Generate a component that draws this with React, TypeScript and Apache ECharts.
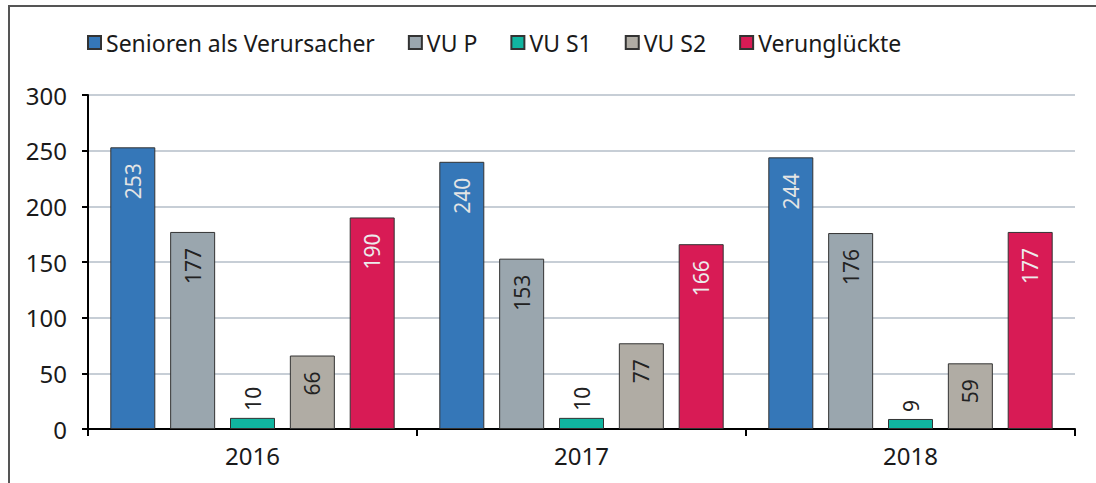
import React, { useEffect, useRef } from "react";
import * as echarts from "echarts";

const categories = ["2016", "2017", "2018"];
const seriesNames = ["Senioren als Verursacher", "VU P", "VU S1", "VU S2", "Verunglückte"];
const senioren = [253, 240, 244];
const vuP = [177, 153, 176];
const vuS1 = [10, 10, 9];
const vuS2 = [66, 77, 59];
const verunglueckte = [190, 166, 177];
const yTicks = { min: 0, max: 300, interval: 50 };

const colors = ["#3577b8", "#9aa6ae", "#10b5a0", "#b0aca4", "#d81b55"];
const labelColors = ["#e4e4e4", "#222222", "#222222", "#222222", "#ececec"];
const FONT = "Noto Sans";

export default function App() {
  const ref = useRef<HTMLDivElement>(null);
  useEffect(() => {
    if (!ref.current) return;
    const chart = echarts.init(ref.current, undefined, { renderer: "svg" });
    const data = [senioren, vuP, vuS1, vuS2, verunglueckte];
    chart.setOption({
      animation: false,
      textStyle: { fontFamily: FONT },
      legend: {
        top: 26,
        left: 82,
        itemWidth: 13,
        itemHeight: 13,
        itemGap: 33,
        icon: "rect",
        textStyle: { fontSize: 23, color: "#1a1a1a", fontFamily: FONT },
        data: seriesNames,
      },
      grid: { left: 88, right: 21, top: 95, bottom: 54 },
      xAxis: {
        type: "category",
        data: categories,
        axisLine: { lineStyle: { color: "#000", width: 2 } },
        axisTick: { show: true, length: 7, lineStyle: { color: "#000", width: 2 } },
        axisLabel: { fontSize: 24, color: "#1a1a1a", margin: 14, fontFamily: FONT },
      },
      yAxis: {
        type: "value",
        min: yTicks.min,
        max: yTicks.max,
        interval: yTicks.interval,
        axisLine: { show: true, lineStyle: { color: "#000", width: 2 } },
        axisTick: { show: true, length: 6, lineStyle: { color: "#000", width: 2 } },
        axisLabel: { fontSize: 24, color: "#1a1a1a", margin: 21, fontFamily: FONT },
        splitLine: { lineStyle: { color: "#b4bec9", width: 1.5 } },
      },
      series: seriesNames.map((name, i) => ({
        name,
        type: "bar",
        data: data[i],
        barWidth: 45,
        barGap: "33%",
        itemStyle: { color: colors[i], borderColor: "#333", borderWidth: 1 },
        label:
          i === 2
            ? {
                show: true,
                position: "top",
                rotate: 90,
                align: "left",
                verticalAlign: "middle",
                distance: 7,
                fontSize: 21,
                color: labelColors[i],
                fontFamily: FONT,
              }
            : {
                show: true,
                position: "insideTop",
                rotate: 90,
                align: "right",
                verticalAlign: "middle",
                distance: 16,
                fontSize: 21,
                color: labelColors[i],
                fontFamily: FONT,
              },
      })),
    });
    return () => chart.dispose();
  }, []);
  return (
    <div>
      <div
        style={{
          position: "absolute",
          left: 8,
          top: 5,
          width: 1200,
          height: 600,
          borderTop: "2px solid #555",
          borderLeft: "2px solid #555",
          boxSizing: "border-box",
        }}
      />
      <div ref={ref} style={{ position: "absolute", left: 0, top: 0, width: 1096, height: 483 }} />
    </div>
  );
}
